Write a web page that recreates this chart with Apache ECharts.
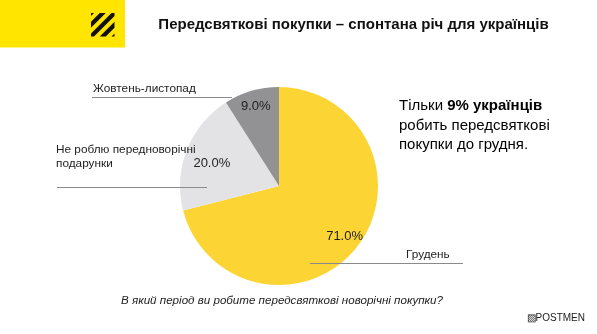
<!DOCTYPE html>
<html>
<head>
<meta charset="utf-8">
<script src="https://cdn.jsdelivr.net/npm/echarts@6/dist/echarts.min.js"></script>
<style>
html,body{margin:0;padding:0;background:#fff;}
#chart{width:597px;height:334px;}
</style>
</head>
<body>
<div id="chart"></div>
<script>
// ---- data ----
const categories = ['Грудень', 'Не роблю передноворічні подарунки', 'Жовтень-листопад'];
const values = [71.0, 20.0, 9.0];
const sliceColors = ['#FCD535', '#E3E3E6', '#929294'];
const titleText = 'Передсвяткові покупки – спонтана річ для українців';
const questionText = 'В який період ви робите передсвяткові новорічні покупки?';
const noteLines = ['{n|Тільки }{b|9% українців}', '{n|робить передсвяткові}', '{n|покупки до грудня.}'];
const brandText = 'POSTMEN';

const FONT = '"Liberation Sans", Arial, sans-serif';
const chart = echarts.init(document.getElementById('chart'), null, {renderer: 'canvas'});

// hatch logo polygons (decorative)
function clipHalf(poly, keep) {
  const out = [];
  for (let i = 0; i < poly.length; i++) {
    const a = poly[i], b = poly[(i + 1) % poly.length];
    const ka = keep(a), kb = keep(b);
    if (ka.in) out.push(a);
    if (ka.in !== kb.in) {
      const t = ka.v / (ka.v - kb.v);
      out.push([a[0] + (b[0] - a[0]) * t, a[1] + (b[1] - a[1]) * t]);
    }
  }
  return out;
}
function hatchBands(x0, y0, S, period, width) {
  const res = [];
  for (let c = 0; c <= 2 * S + 0.01; c += period) {
    let poly = [[0,0],[S,0],[S,S],[0,S]];
    const lo = c - width / 2, hi = c + width / 2;
    poly = clipHalf(poly, p => { const v = p[0] + p[1] - lo; return {in: v >= 0, v: v}; });
    if (poly.length < 3) continue;
    poly = clipHalf(poly, p => { const v = hi - (p[0] + p[1]); return {in: v >= 0, v: v}; });
    if (poly.length < 3) continue;
    res.push({type: 'polygon', silent: true, shape: {points: poly.map(p => [p[0] + x0, p[1] + y0])}, style: {fill: '#111'}});
  }
  return res;
}

const labelAnno = [
  {text: 'Жовтень-листопад', x: 93, y: 89, line: [92, 97, 232]},
  {text: 'Не роблю передноворічні\nподарунки', x: 56, y: 156.5, line: [57, 187, 207]},
  {text: 'Грудень', x: 406, y: 254.5, line: [310, 263, 463]}
];
const annoGraphics = [];
labelAnno.forEach(a => {
  annoGraphics.push({type: 'line', silent: true, z: 10,
    shape: {x1: a.line[0], y1: a.line[1] + 0.5, x2: a.line[2], y2: a.line[1] + 0.5},
    style: {stroke: '#8a8a8e', lineWidth: 1}});
  annoGraphics.push({type: 'text', silent: true, z: 10,
    style: {text: a.text, x: a.x, y: a.y, font: '11.8px ' + FONT, fill: '#222',
      textAlign: 'left', textVerticalAlign: 'middle', lineHeight: 14}});
});

const option = {
  animation: false,
  backgroundColor: '#ffffff',
  title: {
    text: titleText,
    left: 353.5, top: 17, textAlign: 'center',
    padding: 0,
    textStyle: {fontFamily: FONT, fontSize: 15, fontWeight: 'bold', color: '#111'}
  },
  graphic: [
    {type: 'rect', silent: true, shape: {x: 0, y: 0, width: 125, height: 47.5}, style: {fill: '#FFE500'}},
    ...hatchBands(91, 13, 23.5, 47 / 4, 6),
    {type: 'text', silent: true,
      style: {text: noteLines.join('\n'), x: 399, y: 96.5, textVerticalAlign: 'top',
        rich: {
          n: {fontFamily: FONT, fontSize: 15, color: '#1a1a1a', lineHeight: 19.5},
          b: {fontFamily: FONT, fontSize: 15, fontWeight: 'bold', color: '#1a1a1a', lineHeight: 19.5}
        }}},
    {type: 'text', silent: true,
      style: {text: questionText, x: 282, y: 300.5, textAlign: 'center', textVerticalAlign: 'middle',
        font: 'italic 11.6px ' + FONT, fill: '#222'}},
    {type: 'text', silent: true,
      style: {text: '▨' + brandText, x: 585, y: 318, textAlign: 'right', textVerticalAlign: 'middle',
        font: '10px ' + FONT, fill: '#222'}},
    ...annoGraphics
  ],
  series: [
    {
      type: 'pie',
      center: [279, 186],
      radius: [0, 99],
      startAngle: 90,
      clockwise: true,
      silent: true,
      label: {show: false},
      labelLine: {show: false},
      itemStyle: {borderWidth: 0},
      data: categories.map((c, i) => ({name: c, value: values[i], itemStyle: {color: sliceColors[i]}}))
    },
    {
      type: 'pie',
      center: [279, 186],
      radius: [61, 99],
      startAngle: 90,
      clockwise: true,
      silent: true,
      z: 5,
      itemStyle: {color: 'rgba(0,0,0,0)', borderWidth: 0},
      label: {
        show: true, position: 'inside',
        formatter: p => p.value.toFixed(1) + '%',
        fontFamily: FONT, fontSize: 13, color: '#222'
      },
      labelLayout: p => (p.dataIndex === 1 ? {dx: 10, dy: 8} : {}),
      labelLine: {show: false},
      data: categories.map((c, i) => ({name: c, value: values[i]}))
    }
  ]
};
chart.setOption(option);
</script>
</body>
</html>
